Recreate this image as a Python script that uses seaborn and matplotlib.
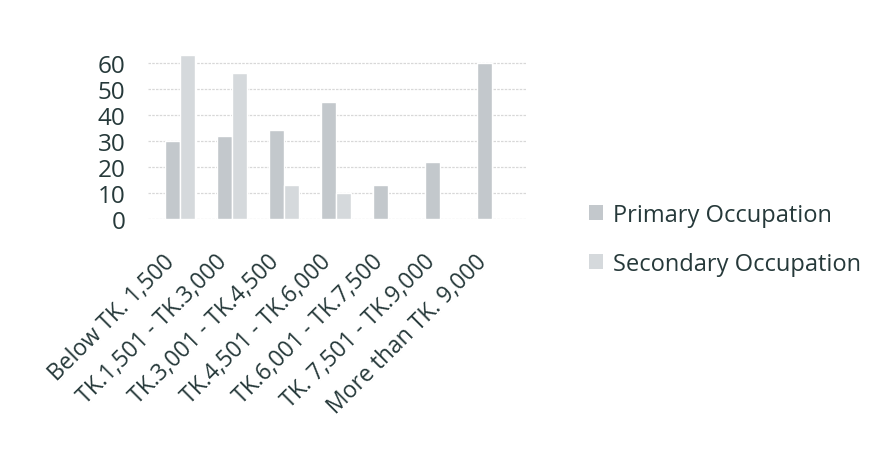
import numpy as np
import pandas as pd
import matplotlib.pyplot as plt
import seaborn as sns
from matplotlib.patches import Patch

# income brackets and number of respondents
categories = ["Below TK. 1,500", "TK.1,501 - TK.3,000", "TK.3,001 - TK.4,500",
              "TK.4,501 - TK.6,000", "TK.6,001 - TK.7,500", "TK. 7,501 - TK.9,000",
              "More than TK. 9,000"]
primary = [30, 32, 34, 45, 13, 22, 60]
secondary = [63, 56, 13, 10, 0, 0, 0]
series = ["Primary Occupation", "Secondary Occupation"]
colors = ["#c3c8cc", "#d5d9dc"]

df = pd.DataFrame({
    "bracket": categories * 2,
    "value": primary + secondary,
    "series": [series[0]] * len(categories) + [series[1]] * len(categories),
})

sns.set_theme(style="white")
plt.rcParams['font.family'] = ['Open Sans', 'DejaVu Sans']
text_col = "#26393a"

fig = plt.figure(figsize=(8.79, 4.64), dpi=100)
ax = fig.add_axes([0.168, 0.526, 0.430, 0.359])

sns.barplot(data=df, x="bracket", y="value", hue="series", palette=colors,
            width=0.58, ax=ax, legend=False, saturation=1)

ax.set_xlim(-0.62, 6.65)
ax.set_ylim(0, 64)
ax.set_yticks(range(0, 70, 10))
ax.yaxis.grid(True, color="#d8d8d8", linewidth=0.9, linestyle=(0, (2, 1)))
ax.set_axisbelow(True)
for s in ax.spines.values():
    s.set_visible(False)
ax.set_xlabel("")
ax.set_ylabel("")
ax.tick_params(axis="y", labelsize=17.5, colors=text_col, pad=16, length=0)
ax.tick_params(axis="x", labelsize=16.5, colors=text_col, pad=22, length=0)
plt.setp(ax.get_xticklabels(), rotation=45, ha="right")

handles = [Patch(facecolor=c, edgecolor="none") for c in colors]
leg = fig.legend(handles, series, loc="upper left",
                 bbox_to_anchor=(568 / 879, 1 - 183 / 464), frameon=False,
                 fontsize=17, handlelength=0.6, handleheight=0.6,
                 handletextpad=0.4, labelspacing=1.05)
for t in leg.get_texts():
    t.set_color(text_col)

fig.savefig("out.png", dpi=100)
